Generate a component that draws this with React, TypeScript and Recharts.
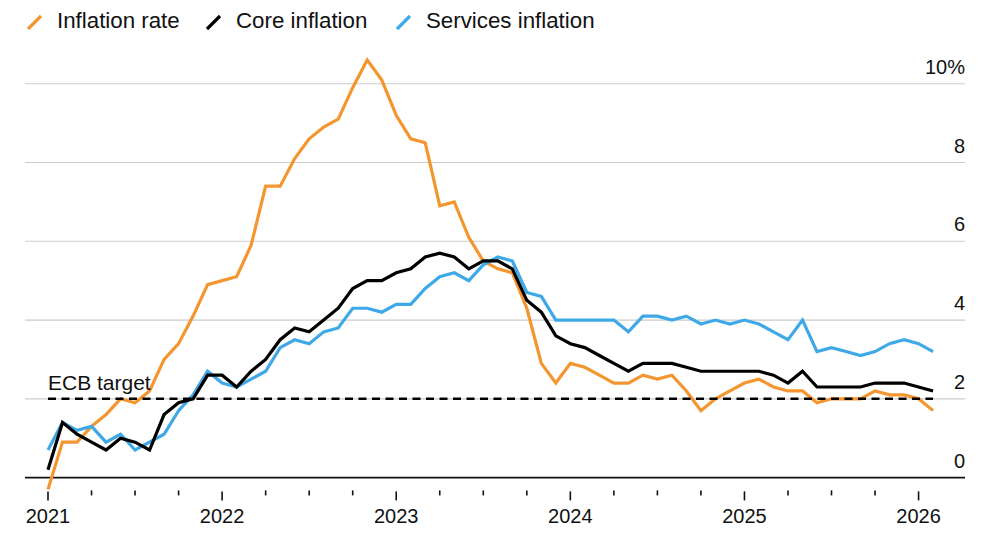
import React from "react";
import {
  LineChart,
  Line,
  XAxis,
  YAxis,
  CartesianGrid,
  ReferenceLine,
} from "recharts";

// monthly, Dec 2020 .. Jan 2026 (index 0 = Dec 2020)
const inflationRate = [
  -0.3, 0.9, 0.9, 1.3, 1.6, 2.0, 1.9, 2.2, 3.0, 3.4, 4.1, 4.9,
  5.0, 5.1, 5.9, 7.4, 7.4, 8.1, 8.6, 8.9, 9.1, 9.9, 10.6, 10.1,
  9.2, 8.6, 8.5, 6.9, 7.0, 6.1, 5.5, 5.3, 5.2, 4.3, 2.9, 2.4,
  2.9, 2.8, 2.6, 2.4, 2.4, 2.6, 2.5, 2.6, 2.2, 1.7, 2.0, 2.2,
  2.4, 2.5, 2.3, 2.2, 2.2, 1.9, 2.0, 2.0, 2.0, 2.2, 2.1, 2.1,
  2.0, 1.7,
];

const coreInflation = [
  0.2, 1.4, 1.1, 0.9, 0.7, 1.0, 0.9, 0.7, 1.6, 1.9, 2.0, 2.6,
  2.6, 2.3, 2.7, 3.0, 3.5, 3.8, 3.7, 4.0, 4.3, 4.8, 5.0, 5.0,
  5.2, 5.3, 5.6, 5.7, 5.6, 5.3, 5.5, 5.5, 5.3, 4.5, 4.2, 3.6,
  3.4, 3.3, 3.1, 2.9, 2.7, 2.9, 2.9, 2.9, 2.8, 2.7, 2.7, 2.7,
  2.7, 2.7, 2.6, 2.4, 2.7, 2.3, 2.3, 2.3, 2.3, 2.4, 2.4, 2.4,
  2.3, 2.2,
];

const servicesInflation = [
  0.7, 1.4, 1.2, 1.3, 0.9, 1.1, 0.7, 0.9, 1.1, 1.7, 2.1, 2.7,
  2.4, 2.3, 2.5, 2.7, 3.3, 3.5, 3.4, 3.7, 3.8, 4.3, 4.3, 4.2,
  4.4, 4.4, 4.8, 5.1, 5.2, 5.0, 5.4, 5.6, 5.5, 4.7, 4.6, 4.0,
  4.0, 4.0, 4.0, 4.0, 3.7, 4.1, 4.1, 4.0, 4.1, 3.9, 4.0, 3.9,
  4.0, 3.9, 3.7, 3.5, 4.0, 3.2, 3.3, 3.2, 3.1, 3.2, 3.4, 3.5,
  3.4, 3.2,
];

const quarterTicks = [0, 3, 6, 9, 12, 15, 18, 21, 24, 27, 30, 33, 36, 39, 42, 45, 48, 51, 54, 57, 60];
const yearLabels = ["2021", "2022", "2023", "2024", "2025", "2026"];
const yTicks = [0, 2, 4, 6, 8, 10];
const yTickLabels = ["0", "2", "4", "6", "8", "10%"];
const gridValues = [2, 4, 6, 8, 10];
const ecbTarget = 2;

const data = inflationRate.map((v, i) => ({
  t: i,
  headline: v,
  core: coreInflation[i],
  services: servicesInflation[i],
}));

const ORANGE = "#F4962F";
const BLUE = "#3FA9E8";
const FONT = "'Liberation Sans', Arial, Helvetica, sans-serif";

const XTick = ({ x, y, payload }: any) => {
  const v = payload.value;
  const major = v % 12 === 0;
  return (
    <g>
      <line
        x1={x}
        x2={x}
        y1={major ? y + 2 : y + 1}
        y2={major ? y + 11 : y + 6}
        stroke="#111"
        strokeWidth={1.6}
      />
      {major && (
        <text x={x} y={y + 34} textAnchor="middle" fontSize={20} fill="#111" fontFamily={FONT}>
          {yearLabels[v / 12]}
        </text>
      )}
    </g>
  );
};

const YTick = ({ x, y, payload }: any) => {
  const idx = yTicks.indexOf(payload.value);
  return (
    <text x={x} y={y - 10} textAnchor="end" fontSize={20} fill="#111" fontFamily={FONT}>
      {yTickLabels[idx]}
    </text>
  );
};

const legendItems = [
  { label: "Inflation rate", color: ORANGE, icon: 28, text: 57 },
  { label: "Core inflation", color: "#000", icon: 207, text: 236 },
  { label: "Services inflation", color: BLUE, icon: 397, text: 426 },
];

export default function App() {
  return (
    <div
      style={{
        position: "absolute",
        left: 0,
        top: 0,
        width: 1000,
        height: 545,
        background: "#fff",
        fontFamily: FONT,
      }}
    >
      <svg width={1000} height={40} style={{ position: "absolute", left: 0, top: 0 }}>
        {legendItems.map((it) => (
          <g key={it.label}>
            <line
              x1={it.icon}
              y1={29}
              x2={it.icon + 13}
              y2={16}
              stroke={it.color}
              strokeWidth={3.2}
            />
            <text x={it.text} y={28} fontSize={22.3} fill="#111" fontFamily={FONT}>
              {it.label}
            </text>
          </g>
        ))}
      </svg>
      <div style={{ position: "absolute", left: 0, top: 0 }}>
        <LineChart
          width={1000}
          height={545}
          data={data}
          margin={{ top: 60.1, right: 34, bottom: 15.6, left: 25 }}
        >
          <CartesianGrid
            vertical={false}
            horizontalValues={gridValues}
            stroke="#cccccc"
            strokeWidth={1.2}
          />
          <XAxis
            dataKey="t"
            type="number"
            domain={[-1.585, 63.2]}
            ticks={quarterTicks}
            interval={0}
            axisLine={false}
            tickLine={false}
            tickSize={0}
            tickMargin={0}
            height={40}
            tick={<XTick />}
          />
          <YAxis
            orientation="right"
            type="number"
            domain={[-0.3, 10.5]}
            ticks={yTicks}
            interval={0}
            axisLine={false}
            tickLine={false}
            tickSize={0}
            tickMargin={0}
            width={1}
            tick={<YTick />}
          />
          <ReferenceLine y={0} stroke="#111" strokeWidth={1.8} />
          <Line
            dataKey="headline"
            stroke={ORANGE}
            strokeWidth={3.2}
            dot={false}
            type="linear"
            isAnimationActive={false}
          />
          <Line
            dataKey="services"
            stroke={BLUE}
            strokeWidth={3.2}
            dot={false}
            type="linear"
            isAnimationActive={false}
          />
          <Line
            dataKey="core"
            stroke="#000"
            strokeWidth={3.2}
            dot={false}
            type="linear"
            isAnimationActive={false}
          />
          <ReferenceLine
            segment={[
              { x: 0, y: ecbTarget },
              { x: 61, y: ecbTarget },
            ]}
            stroke="#000"
            strokeWidth={2.5}
            strokeDasharray="8 5.5"
            label={(props: any) => (
              <text
                x={props.viewBox.x}
                y={props.viewBox.y - 9}
                fontSize={21}
                fill="#111"
                fontFamily={FONT}
              >
                ECB target
              </text>
            )}
          />
        </LineChart>
      </div>
    </div>
  );
}
